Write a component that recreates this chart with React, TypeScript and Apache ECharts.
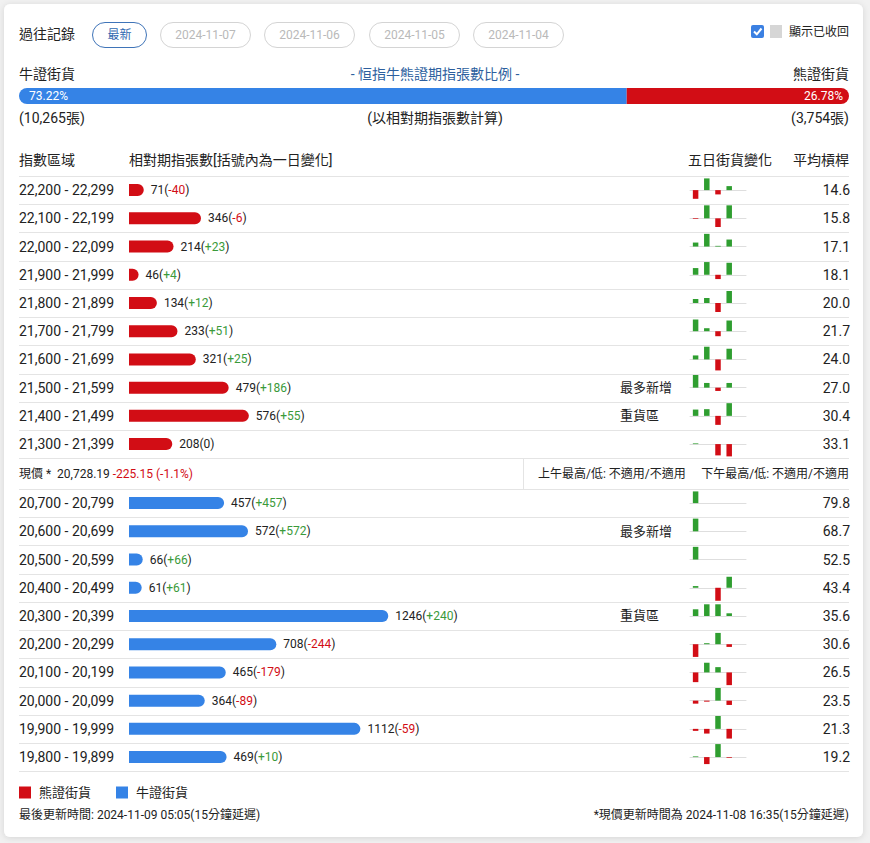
import React, { useEffect, useRef } from "react";
import * as echarts from "echarts";

// ---------- data ----------
const historyDates = ["最新", "2024-11-07", "2024-11-06", "2024-11-05", "2024-11-04"];

const bullPct = 73.22;
const bearPct = 26.78;
const bullTotal = "10,265";
const bearTotal = "3,754";

const bearRanges = [
  "22,200 - 22,299", "22,100 - 22,199", "22,000 - 22,099", "21,900 - 21,999", "21,800 - 21,899",
  "21,700 - 21,799", "21,600 - 21,699", "21,500 - 21,599", "21,400 - 21,499", "21,300 - 21,399",
];
const bearCount = [71, 346, 214, 46, 134, 233, 321, 479, 576, 208];
const bearChange = [-40, -6, 23, 4, 12, 51, 25, 186, 55, 0];
const bearLeverage = [14.6, 15.8, 17.1, 18.1, 20.0, 21.7, 24.0, 27.0, 30.4, 33.1];
const bearTags = ["", "", "", "", "", "", "", "最多新增", "重貨區", ""];

const bullRanges = [
  "20,700 - 20,799", "20,600 - 20,699", "20,500 - 20,599", "20,400 - 20,499", "20,300 - 20,399",
  "20,200 - 20,299", "20,100 - 20,199", "20,000 - 20,099", "19,900 - 19,999", "19,800 - 19,899",
];
const bullCount = [457, 572, 66, 61, 1246, 708, 465, 364, 1112, 469];
const bullChange = [457, 572, 66, 61, 240, -244, -179, -89, -59, 10];
const bullLeverage = [79.8, 68.7, 52.5, 43.4, 35.6, 30.6, 26.5, 23.5, 21.3, 19.2];
const bullTags = ["", "最多新增", "", "", "重貨區", "", "", "", "", ""];

// five-day change (relative units, per row)
const fiveDays = ["D1", "D2", "D3", "D4", "D5"];
const bearFiveDay = [
  [-8.7, 11.7, -4.3, 4, null],
  [-0.7, 13, -8.7, 13, null],
  [4, 12.7, 0.7, 7, null],
  [6.7, 12.7, -4.3, 12, null],
  [4, 5, -9, 12, null],
  [11.7, 3, -5, 10.7, null],
  [4, 12.7, -11, 10.7, null],
  [12.7, 4.7, -3.3, 4.7, null],
  [6.3, 6.7, -9, 12.7, null],
  [0.7, 0, -11.3, -12.3, null],
];
const bullFiveDay = [
  [11.7, 0, 0, 0, null],
  [12.7, 0, 0, 0, null],
  [12.7, 0, 0, 0, null],
  [1.7, 0, -13, 11, null],
  [6.7, 11.7, 11.7, 2.7, null],
  [-12.7, 1, 11.3, -2.7, null],
  [-9.7, 9.7, 5.3, -12.7, null],
  [-3, -1, 12.7, -4.3, null],
  [-2, -4.7, 13, -9.7, null],
  [0.7, -7, 13, -0.7, null],
];

const spotPrice = "20,728.19";
const spotChange = "-225.15 (-1.1%)";
const amHighLow = "上午最高/低: 不適用/不適用";
const pmHighLow = "下午最高/低: 不適用/不適用";
const lastUpdate = "最後更新時間: 2024-11-09 05:05(15分鐘延遲)";
const spotUpdate = "*現價更新時間為 2024-11-08 16:35(15分鐘延遲)";

// ---------- style ----------
const FONT = "Roboto, 'Noto Sans CJK TC', sans-serif";
const RED = "#d20d15";
const BLUE = "#3583e6";
const GREEN_TXT = "#3a9a3a";
const GREEN = "#2f9e30";
const TXT = "#222222";
const LINE = "#e4e4e4";
const BAR_MAX = 3460;
const ROW_H = 28.22;
const BEAR_TOP = 176;
const BULL_TOP = 489;
const L = 19;
const R = 849;

export default function App() {
  const ref = useRef<HTMLDivElement>(null);
  useEffect(() => {
    document.body.style.margin = "0";
    const chart = echarts.init(ref.current!, null, { renderer: "svg" });

    const grids: any[] = [];
    const xAxes: any[] = [];
    const yAxes: any[] = [];
    const series: any[] = [];
    const graphics: any[] = [];

    const txt = (x: number, y: number, text: string, o: any = {}) =>
      graphics.push({
        type: "text",
        x,
        y,
        z: 20,
        style: {
          text,
          fill: o.fill || TXT,
          fontSize: o.fontSize || 14,
          fontFamily: FONT,
          align: o.align || "left",
          verticalAlign: "middle",
          rich: o.rich,
        },
      });
    const hline = (y: number, x1 = L, x2 = R) =>
      graphics.push({
        type: "line",
        z: 5,
        shape: { x1, y1: Math.round(y) + 0.5, x2, y2: Math.round(y) + 0.5 },
        style: { stroke: LINE, lineWidth: 1 },
      });

    // background + card
    graphics.push({ type: "rect", z: -20, shape: { x: 0, y: 0, width: 870, height: 843 }, style: { fill: "#f1f1f1" } });
    graphics.push({
      type: "rect",
      z: -10,
      shape: { x: 4, y: 4, width: 859, height: 833, r: 6 },
      style: { fill: "#ffffff", shadowBlur: 6, shadowColor: "rgba(0,0,0,0.12)", shadowOffsetY: 1 },
    });

    // header
    txt(L, 34, "過往記錄");
    const pillX = [92, 160, 264, 369, 473];
    const pillW = [54, 90, 90, 90, 90];
    historyDates.forEach((d, i) => {
      const active = i === 0;
      graphics.push({
        type: "rect",
        z: 10,
        shape: { x: pillX[i] + 0.5, y: 22.5, width: pillW[i], height: 25, r: 12.5 },
        style: { fill: "#fff", stroke: active ? "#3f74b8" : "#d4d4d4", lineWidth: 1 },
      });
      txt(pillX[i] + pillW[i] / 2 + 0.5, 35, d, { align: "center", fontSize: 12, fill: active ? "#2f68b0" : "#b9b9b9" });
    });
    graphics.push({ type: "rect", z: 10, shape: { x: 751, y: 25, width: 13, height: 13, r: 2 }, style: { fill: "#3b80e2" } });
    graphics.push({
      type: "polyline",
      z: 11,
      shape: { points: [[754, 31.5], [756.8, 34.3], [761.5, 28.5]] },
      style: { stroke: "#fff", lineWidth: 2, fill: null },
    });
    graphics.push({ type: "rect", z: 10, shape: { x: 770, y: 25, width: 12, height: 13 }, style: { fill: "#d6d6d6" } });
    txt(R, 32, "顯示已收回", { align: "right", fontSize: 12 });

    // ratio title row
    txt(L, 74, "牛證街貨");
    txt(435, 74, "- 恒指牛熊證期指張數比例 -", { align: "center", fill: "#2d5f9e" });
    txt(R, 74, "熊證街貨", { align: "right" });
    txt(L, 118, `(${bullTotal}張)`);
    txt(435, 118, "(以相對期指張數計算)", { align: "center" });
    txt(R, 118, `(${bearTotal}張)`, { align: "right" });

    // ratio bar grid
    grids.push({ left: L, top: 88, width: R - L, height: 16 });
    xAxes.push({ gridIndex: 0, type: "value", min: 0, max: 100, show: false });
    yAxes.push({ gridIndex: 0, type: "category", data: ["ratio"], show: false });
    series.push({
      name: "牛證比例",
      type: "bar",
      xAxisIndex: 0,
      yAxisIndex: 0,
      stack: "ratio",
      barWidth: 16,
      data: [bullPct],
      itemStyle: { color: BLUE, borderRadius: [8, 0, 0, 8] },
      label: { show: true, position: "insideLeft", distance: 10, color: "#fff", fontSize: 12, fontFamily: FONT, formatter: `${bullPct.toFixed(2)}%` },
    });
    series.push({
      name: "熊證比例",
      type: "bar",
      xAxisIndex: 0,
      yAxisIndex: 0,
      stack: "ratio",
      barWidth: 16,
      data: [bearPct],
      itemStyle: { color: RED, borderRadius: [0, 8, 8, 0] },
      label: { show: true, position: "insideRight", distance: 6, color: "#fff", fontSize: 12, fontFamily: FONT, formatter: `${bearPct.toFixed(2)}%` },
    });

    // table header
    txt(L, 160, "指數區域");
    txt(129, 160, "相對期指張數[括號內為一日變化]");
    txt(730, 160, "五日街貨變化", { align: "center" });
    txt(R, 160, "平均槓桿", { align: "right" });

    const rich = {
      v: { color: TXT, fontSize: 12, fontFamily: FONT },
      p: { color: GREEN_TXT, fontSize: 12, fontFamily: FONT },
      n: { color: RED, fontSize: 12, fontFamily: FONT },
    };
    const fmt = (changes: number[]) => (p: any) => {
      const c = changes[p.dataIndex];
      const cs = c > 0 ? `{p|+${c}}` : c < 0 ? `{n|${c}}` : `{v|0}`;
      return `{v|${p.value}(}${cs}{v|)}`;
    };

    const addSection = (
      name: string,
      top: number,
      ranges: string[],
      counts: number[],
      changes: number[],
      lev: number[],
      tags: string[],
      five: (number | null)[][],
      color: string
    ) => {
      const gi = grids.length;
      grids.push({ left: 129, top, width: R - 129, height: ROW_H * ranges.length });
      const xi = xAxes.length;
      xAxes.push({ gridIndex: gi, type: "value", min: 0, max: BAR_MAX, show: false });
      const yi = yAxes.length;
      yAxes.push({
        gridIndex: gi,
        type: "category",
        inverse: true,
        data: ranges,
        axisLine: { show: false },
        axisTick: { show: false },
        axisLabel: { interval: 0, align: "left", margin: 110, fontSize: 14, color: TXT, fontFamily: FONT },
      });
      yAxes.push({
        gridIndex: gi,
        type: "category",
        position: "right",
        inverse: true,
        data: lev.map((v) => v.toFixed(1)),
        axisLine: { show: false },
        axisTick: { show: false },
        axisLabel: { interval: 0, align: "right", margin: 1, fontSize: 14, color: TXT, fontFamily: FONT },
      });
      series.push({
        name,
        type: "bar",
        xAxisIndex: xi,
        yAxisIndex: yi,
        barWidth: 12,
        data: counts,
        itemStyle: { color, borderRadius: [0, 6, 6, 0] },
        label: { show: true, position: "right", distance: 7, formatter: fmt(changes), rich },
      });
      // separators & tags
      for (let i = 0; i <= ranges.length; i++) hline(top + i * ROW_H);
      tags.forEach((t, i) => {
        if (t) txt(620, top + (i + 0.5) * ROW_H, t, { fontSize: 13 });
      });
      // sparklines
      five.forEach((vals, i) => {
        const g = grids.length;
        grids.push({ left: 690, top: top + (i + 0.5) * ROW_H - 13, width: 56, height: 26 });
        const sx = xAxes.length;
        xAxes.push({
          gridIndex: g,
          type: "category",
          data: fiveDays,
          axisLine: { show: true, onZero: true, lineStyle: { color: "#dedede", width: 1 } },
          axisTick: { show: false },
          axisLabel: { show: false },
          splitLine: { show: false },
        });
        const sy = yAxes.length;
        yAxes.push({ gridIndex: g, type: "value", min: -13, max: 13, show: false, splitLine: { show: false } });
        series.push({
          type: "bar",
          name: `${name}-5d-${i}`,
          xAxisIndex: sx,
          yAxisIndex: sy,
          barWidth: 5.5,
          silent: true,
          data: vals.map((v) => (v === null ? null : { value: v, itemStyle: { color: v >= 0 ? GREEN : RED } })),
        });
      });
    };

    addSection("熊證街貨", BEAR_TOP, bearRanges, bearCount, bearChange, bearLeverage, bearTags, bearFiveDay, RED);
    addSection("牛證街貨", BULL_TOP, bullRanges, bullCount, bullChange, bullLeverage, bullTags, bullFiveDay, BLUE);

    // spot row
    graphics.push({
      type: "text",
      x: L,
      y: 474,
      z: 20,
      style: {
        text: `{a|現價 *  ${spotPrice} }{r|${spotChange}}`,
        fontSize: 12,
        fontFamily: FONT,
        fill: TXT,
        align: "left",
        verticalAlign: "middle",
        rich: {
          a: { fill: TXT, fontSize: 12, fontFamily: FONT },
          r: { fill: RED, fontSize: 12, fontFamily: FONT },
        },
      },
    });
    graphics.push({
      type: "line",
      z: 5,
      shape: { x1: 523.5, y1: BEAR_TOP + 10 * ROW_H, x2: 523.5, y2: BULL_TOP },
      style: { stroke: LINE, lineWidth: 1 },
    });
    txt(538, 474, amHighLow, { fontSize: 12 });
    txt(R, 474, pmHighLow, { fontSize: 12, align: "right" });

    // footer
    txt(L, 815, lastUpdate, { fontSize: 12 });
    txt(R, 815, spotUpdate, { fontSize: 12, align: "right" });

    chart.setOption({
      animation: false,
      textStyle: { fontFamily: FONT },
      grid: grids.map((g) => ({ ...g, containLabel: false })),
      xAxis: xAxes,
      yAxis: yAxes,
      series,
      legend: {
        data: ["熊證街貨", "牛證街貨"],
        left: L,
        top: 786,
        padding: 0,
        icon: "rect",
        itemWidth: 12,
        itemHeight: 12,
        itemGap: 25,
        selectedMode: false,
        textStyle: { fontSize: 13, color: TXT, fontFamily: FONT, padding: [0, 0, 0, 3] },
      },
      graphic: graphics,
    });
    return () => chart.dispose();
  }, []);
  return <div ref={ref} style={{ width: 870, height: 843 }} />;
}
